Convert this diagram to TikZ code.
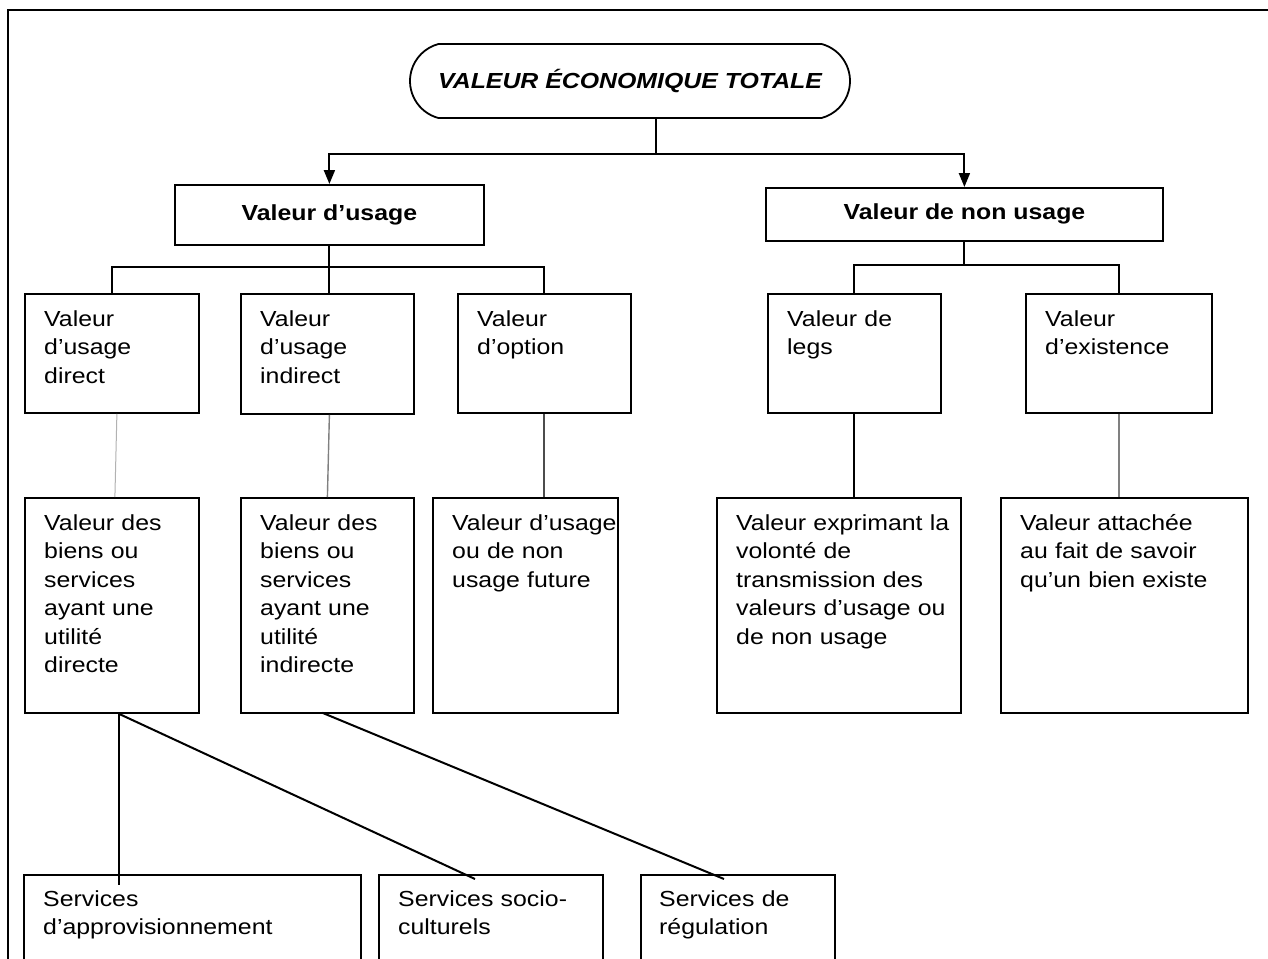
\documentclass[tikz,border=0pt]{standalone}
\usepackage{fontspec}
\setmainfont[FakeStretch=1.14]{Liberation Sans}
\usetikzlibrary{arrows.meta,shapes.misc,calc}
\newcommand\mkbox[6]{%
  \node[boxst, minimum width=#4pt, minimum height=#5pt, anchor=north west] (#1) at (#2,#3) {};
  \node[txt, anchor=base west] (#1t) at ($(#1.north west)+(20,33)$) {#6};
}
\begin{document}
\begin{tikzpicture}[x=1pt,y=-1pt,
  boxst/.style={draw, line width=1.8pt, inner sep=0pt},
  txt/.style={inner sep=0pt, text width=320pt, align=left, font=\fontsize{21.8}{28.5}\selectfont},
  headbox/.style={draw, line width=1.8pt, inner sep=0pt, font=\fontsize{21.8}{26}\selectfont\bfseries},
  ln/.style={line width=2pt},
  thin/.style={line width=1.4pt, gray},
  arr/.style={line width=2pt, -{Triangle[length=14pt,width=11pt]}},
]
\useasboundingbox (0,0) rectangle (1268,958);
\clip (0,0) rectangle (1268,958);
\fill[white] (0,0) rectangle (1268,958);
% outer frame (cut at right and bottom)
\draw[line width=2pt] (8,10) rectangle (1300,1000);

% title
\node[draw, line width=1.8pt, rounded rectangle, rounded rectangle arc length=150,
      minimum width=440pt, minimum height=74pt, inner sep=0pt,
      font=\fontsize{21.8}{26}\selectfont\bfseries\itshape] (top) at (630,81) {VALEUR ÉCONOMIQUE TOTALE};

% level 1
\node[headbox, minimum width=309pt, minimum height=60pt, anchor=north west] (usage) at (174,184) {Valeur d’usage};
\node[headbox, minimum width=397pt, minimum height=53pt, anchor=north west] (nonusage) at (765,187) {Valeur de non usage};

% level 2
\mkbox{b1}{24}{293}{174}{119}{Valeur\\d’usage\\direct}
\mkbox{b2}{240}{293}{173}{120}{Valeur\\d’usage\\indirect}
\mkbox{b3}{457}{293}{173}{119}{Valeur\\d’option}
\mkbox{b4}{767}{293}{173}{119}{Valeur de\\legs}
\mkbox{b5}{1025}{293}{186}{119}{Valeur\\d’existence}

% level 3
\mkbox{b6}{24}{497}{174}{215}{Valeur des\\biens ou\\services\\ayant une\\utilité\\directe}
\mkbox{b7}{240}{497}{173}{215}{Valeur des\\biens ou\\services\\ayant une\\utilité\\indirecte}
\mkbox{b8}{432}{497}{185}{215}{Valeur d’usage\\ou de non\\usage future}
\mkbox{b9}{716}{497}{244}{215}{Valeur exprimant la\\volonté de\\transmission des\\valeurs d’usage ou\\de non usage}
\mkbox{b10}{1000}{497}{247}{215}{Valeur attachée\\au fait de savoir\\qu’un bien existe}

% services (cut at the bottom)
\node[boxst, minimum width=337pt, minimum height=120pt, anchor=north west] (s1) at (23,874) {};
\node[txt, anchor=base west] (s1t) at ($(s1.north west)+(20,32)$) {Services\\d’approvisionnement};
\node[boxst, minimum width=224pt, minimum height=120pt, anchor=north west] (s2) at (378,874) {};
\node[txt, anchor=base west] (s2t) at ($(s2.north west)+(20,32)$) {Services socio-\\culturels};
\node[boxst, minimum width=194pt, minimum height=120pt, anchor=north west] (s3) at (640,874) {};
\node[txt, anchor=base west] (s3t) at ($(s3.north west)+(19,32)$) {Services de\\régulation};

% connectors: title -> level 1
\coordinate (j0) at ($(top.south)+(26,0)$);
\draw[ln] (j0) -- ++(0,35) coordinate (j1);
\draw[arr] (j1) -| (usage.north);
\draw[arr] (j1) -| (nonusage.north);

% usage -> level 2
\draw[ln] (usage.south) -- (usage.south |- 0,267) coordinate (u1);
\draw[ln] (b1.north) |- (u1) -| (b3.north);
\draw[ln] (u1) -- (u1 |- b2.north);

% non usage -> level 2
\draw[ln] (nonusage.south) -- (nonusage.south |- 0,265) coordinate (n1);
\draw[ln] (b4.north) |- (n1) -| (b5.north);

% level 2 -> level 3
\draw[line width=1pt, gray!60] ($(b1.south)+(5,0)$) -- ($(b6.north)+(3,0)$);
\draw[thin] ($(b2.south)+(2,0)$) -- ($(b7.north)+(0,0)$);
\draw[line width=2pt, black!70] (b3.south) -- (b3.south |- b8.north);
\draw[ln] (b4.south) -- (b4.south |- b9.north);
\draw[line width=2pt, gray] (b5.south) -- (b5.south |- b10.north);

% level 3 -> services
\coordinate (d1) at ($(b6.south)+(7,0)$);
\draw[ln] (d1) -- (d1 |- 0,885) coordinate (d1e);
\draw[ln] (d1) -- ($(s2.north west)+(97,5)$) coordinate (d2e);
\draw[ln] ($(b7.south)+(-5,-1)$) coordinate (d3) -- ($(s3.north west)+(84,5)$) coordinate (d3e);
\end{tikzpicture}
\end{document}
